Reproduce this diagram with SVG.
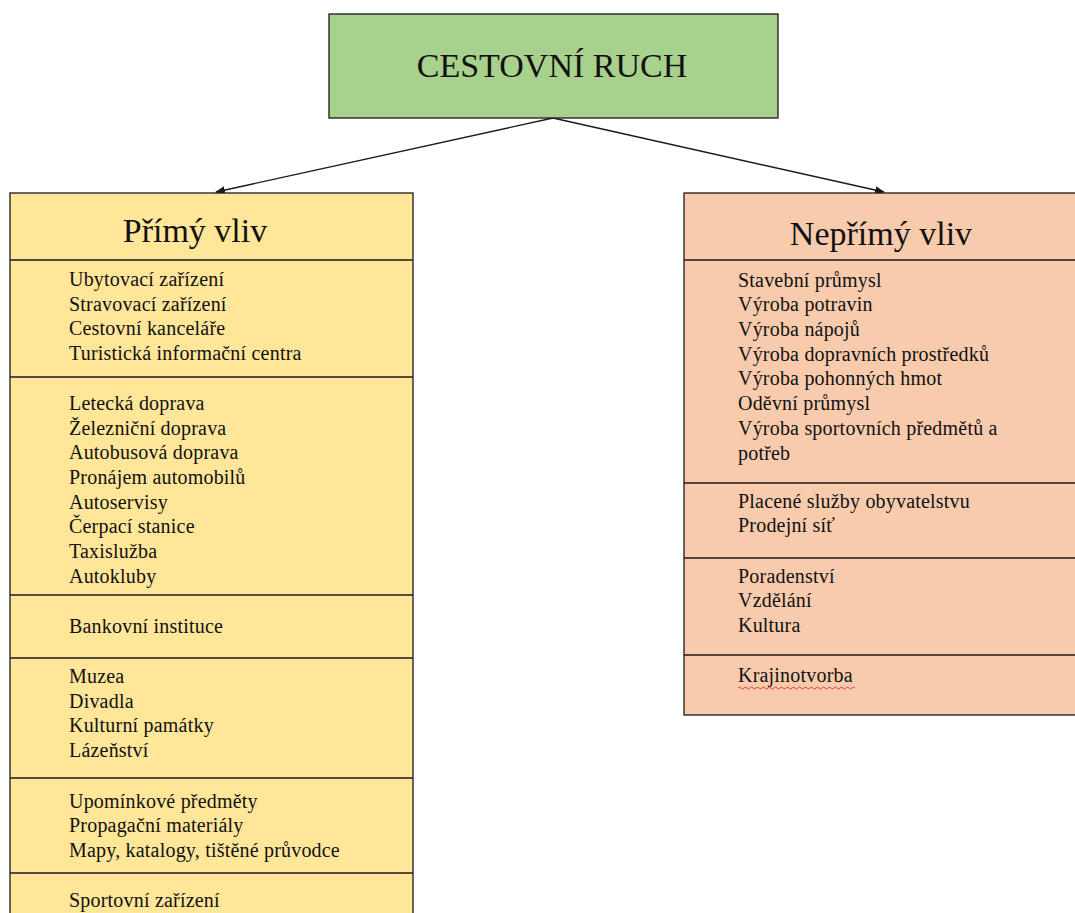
<svg xmlns="http://www.w3.org/2000/svg" width="1075" height="913" viewBox="0 0 1075 913">
<style>
.box{stroke:#1a1a1a;stroke-width:1.3}
.div{stroke:#1a1a1a;stroke-width:1.6}
.t{font-family:"Liberation Serif","Times New Roman",serif;fill:#111}
.it{font-size:20px;letter-spacing:0.2px}
.hd{font-size:34px}
.conn{stroke:#1a1a1a;stroke-width:1.4;fill:none}
</style>
<defs>
<marker id="ah" markerWidth="10" markerHeight="8" refX="9" refY="4" orient="auto" markerUnits="userSpaceOnUse">
<path d="M0,0 L10,4 L0,8 Z" fill="#1a1a1a"/>
</marker>
</defs>
<rect width="1075" height="913" fill="#ffffff"/>
<g id="connectors">
<line class="conn" x1="553" y1="118" x2="216" y2="192" marker-end="url(#ah)"/>
<line class="conn" x1="553" y1="118" x2="884" y2="192" marker-end="url(#ah)"/>
</g>
<g id="root">
<rect class="box" x="329" y="14" width="449" height="104" fill="#a9d18e"/>
<text class="t" x="552" y="77" font-size="34" text-anchor="middle">CESTOVNÍ RUCH</text>
</g>
<g id="primy">
<rect class="box" x="10" y="193" width="403" height="730" fill="#ffe699"/>
<line class="div" x1="10" y1="260" x2="413" y2="260"/>
<line class="div" x1="10" y1="377" x2="413" y2="377"/>
<line class="div" x1="10" y1="595" x2="413" y2="595"/>
<line class="div" x1="10" y1="658" x2="413" y2="658"/>
<line class="div" x1="10" y1="778" x2="413" y2="778"/>
<line class="div" x1="10" y1="873" x2="413" y2="873"/>
<text class="t hd" x="195" y="242" text-anchor="middle">Přímý vliv</text>
<g class="t it">
<text x="69" y="286">Ubytovací zařízení</text>
<text x="69" y="311">Stravovací zařízení</text>
<text x="69" y="335">Cestovní kanceláře</text>
<text x="69" y="360">Turistická informační centra</text>
<text x="69" y="410">Letecká doprava</text>
<text x="69" y="435">Železniční doprava</text>
<text x="69" y="459">Autobusová doprava</text>
<text x="69" y="484">Pronájem automobilů</text>
<text x="69" y="509">Autoservisy</text>
<text x="69" y="533">Čerpací stanice</text>
<text x="69" y="558">Taxislužba</text>
<text x="69" y="583">Autokluby</text>
<text x="69" y="633">Bankovní instituce</text>
<text x="69" y="683">Muzea</text>
<text x="69" y="708">Divadla</text>
<text x="69" y="732">Kulturní památky</text>
<text x="69" y="757">Lázeňství</text>
<text x="69" y="808">Upomínkové předměty</text>
<text x="69" y="832">Propagační materiály</text>
<text x="69" y="857">Mapy, katalogy, tištěné průvodce</text>
<text x="69" y="907">Sportovní zařízení</text>
</g>
</g>
<g id="neprimy">
<rect class="box" x="684" y="193" width="400" height="522" fill="#f8cbad"/>
<line class="div" x1="684" y1="260" x2="1084" y2="260"/>
<line class="div" x1="684" y1="483" x2="1084" y2="483"/>
<line class="div" x1="684" y1="558" x2="1084" y2="558"/>
<line class="div" x1="684" y1="655" x2="1084" y2="655"/>
<text class="t hd" x="881" y="245" text-anchor="middle">Nepřímý vliv</text>
<g class="t it">
<text x="738" y="287">Stavební průmysl</text>
<text x="738" y="311">Výroba potravin</text>
<text x="738" y="336">Výroba nápojů</text>
<text x="738" y="361">Výroba dopravních prostředků</text>
<text x="738" y="385">Výroba pohonných hmot</text>
<text x="738" y="410">Oděvní průmysl</text>
<text x="738" y="435">Výroba sportovních předmětů a</text>
<text x="738" y="460">potřeb</text>
<text x="738" y="508">Placené služby obyvatelstvu</text>
<text x="738" y="532">Prodejní síť</text>
<text x="738" y="583">Poradenství</text>
<text x="738" y="607">Vzdělání</text>
<text x="738" y="632">Kultura</text>
<text x="738" y="682">Krajinotvorba</text>
</g>
<path d="M738,688 q1.5,-2 3,0 t3,0 t3,0 t3,0 t3,0 t3,0 t3,0 t3,0 t3,0 t3,0 t3,0 t3,0 t3,0 t3,0 t3,0 t3,0 t3,0 t3,0 t3,0 t3,0 t3,0 t3,0 t3,0 t3,0 t3,0 t3,0 t3,0 t3,0 t3,0 t3,0 t3,0 t3,0 t3,0 t3,0 t3,0 t3,0 t3,0 t3,0 t3,0" fill="none" stroke="#e03030" stroke-width="0.9"/>
</g>
</svg>
